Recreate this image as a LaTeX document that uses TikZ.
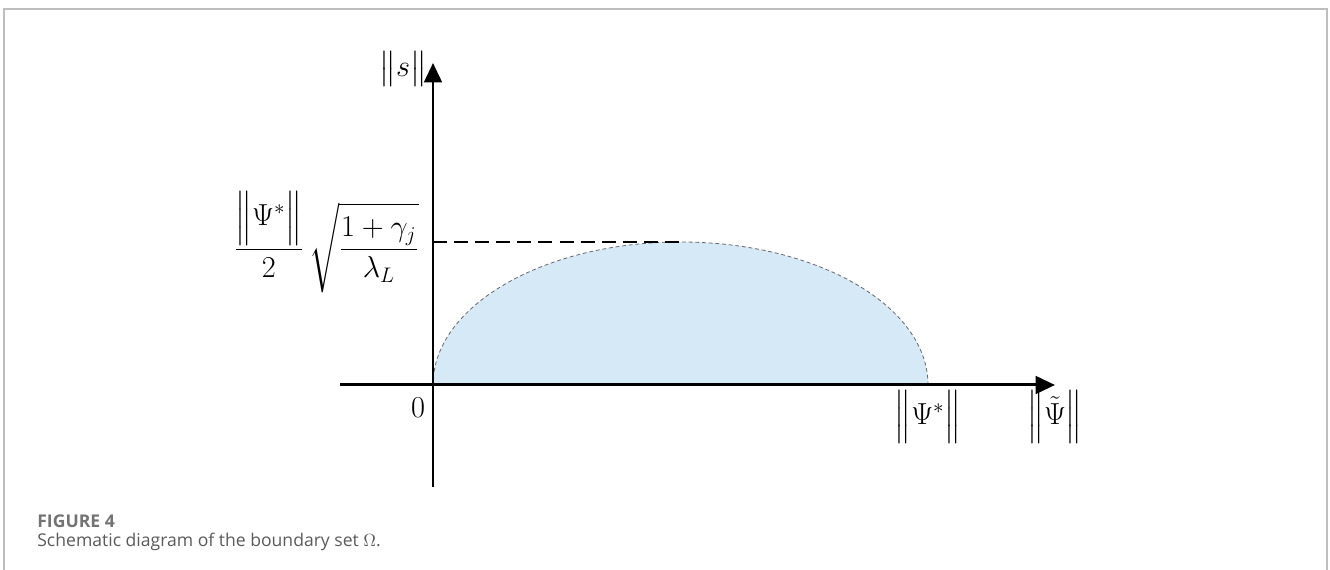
\documentclass[tikz,border=0pt]{standalone}
\usepackage{amsmath,amssymb}
\usepackage{fontspec}
\usepackage{tikz}
\usetikzlibrary{arrows.meta,positioning,calc}
\newfontfamily\capfont{Open Sans}
\definecolor{regionblue}{HTML}{D6E9F7}
\definecolor{framegray}{HTML}{BEBEBE}
\definecolor{capgray}{HTML}{5A5A5A}
\tikzset{
  axisline/.style={line width=1.7pt, -{Triangle[length=11pt,width=10pt]}},
  mathlbl/.style={font=\fontsize{17}{20}\selectfont, inner sep=0pt},
}

\begin{document}
\begin{tikzpicture}[x=0.02cm,y=0.02cm]
  \useasboundingbox (0,0) rectangle (1330,570);
  % Frame
  \draw[framegray, line width=0.9pt] (4,0) -- (4,561) -- (1327,561) -- (1327,0);

  % Axes
  \coordinate (O) at (433,185);
  \coordinate (ybot) at (433,83);
  \coordinate (ytop) at (433,507);
  \coordinate (xleft) at (340,185);
  \coordinate (xright) at (1055,185);
  \coordinate (peak) at (680.5,328);

  % Boundary set
  \fill[regionblue] (O) arc[start angle=180, end angle=0, x radius=247.5, y radius=143] -- cycle;
  \draw[gray!80!black, line width=0.45pt, dash pattern=on 2.2pt off 1.6pt]
    (O) arc[start angle=180, end angle=0, x radius=247.5, y radius=143];
  \draw[line width=1.3pt, dash pattern=on 8pt off 4pt] (O |- peak) -- (peak);

  \draw[axisline] (ybot) -- (ytop);
  \draw[axisline] (xleft) -- (xright);

  % Labels
  \node[mathlbl] (snorm) at (403,501) {$\bigl\| s \bigr\|$};
  \node[mathlbl] (zero) at (418,162) {$0$};
  \node[mathlbl] (psistar) at (928,153) {$\Bigl\| \Psi^{*} \Bigr\|$};
  \node[mathlbl] (psitilde) at (1055,153) {$\Bigl\| \tilde{\Psi} \Bigr\|$};
  \node[mathlbl, anchor=east] (bound) at (419,328)
    {$\dfrac{\Bigl\| \Psi^{*} \Bigr\|}{2}\,\sqrt{\dfrac{\mathstrut 1+\gamma_{j}}{\mathstrut\lambda_{L}}}$};

  % Caption
  \node[font=\capfont\fontsize{10}{12}\selectfont\bfseries, text=capgray!85, anchor=base west, inner sep=0pt]
    (fignum) at (37,42) {FIGURE 4};
  \node[font=\capfont\fontsize{10}{12}\selectfont, text=capgray, anchor=base west, inner sep=0pt]
    (caption) at (37,23) {Schematic diagram of the boundary set $\Omega$.};
\end{tikzpicture}
\end{document}
